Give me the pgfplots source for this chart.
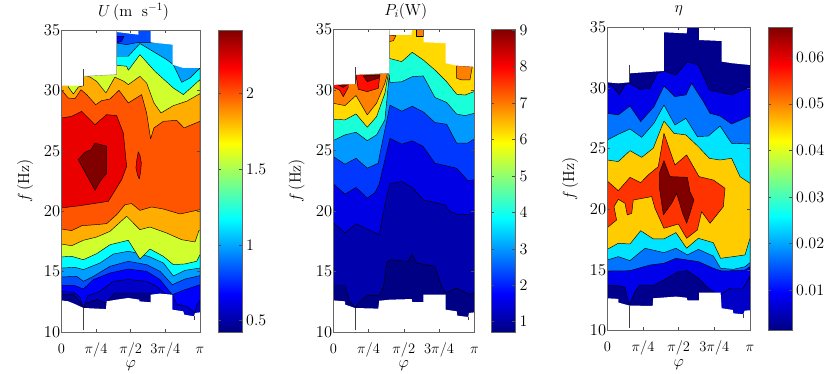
\RequirePackage{fix-cm}
\documentclass[border=0pt]{standalone}
\usepackage{pgfplots}
\pgfplotsset{compat=1.18}

% contour fill colours, picked per panel off the jet scale
\definecolor{ua}{rgb}{0,0,.55}\definecolor{ub}{rgb}{0,0,.78}\definecolor{uc}{rgb}{0,0,1}
\definecolor{ud}{rgb}{0,.3,1}\definecolor{ue}{rgb}{0,.62,1}\definecolor{uf}{rgb}{0,1,1}
\definecolor{ug}{rgb}{.82,1,.18}\definecolor{uh}{rgb}{1,.68,0}\definecolor{ui}{rgb}{1,.33,0}
\definecolor{uj}{rgb}{.92,0,0}\definecolor{uk}{rgb}{.5,0,0}
\definecolor{pa}{rgb}{0,0,.52}\definecolor{pb}{rgb}{0,0,.68}\definecolor{pc}{rgb}{0,0,.9}
\definecolor{pd}{rgb}{0,.22,1}\definecolor{pe}{rgb}{0,.6,1}\definecolor{pf}{rgb}{.1,1,.85}
\definecolor{pg}{rgb}{1,.85,0}\definecolor{ph}{rgb}{1,.5,0}\definecolor{pi}{rgb}{1,.05,0}
\definecolor{pj}{rgb}{.5,0,0}
\definecolor{ea}{rgb}{0,0,.55}\definecolor{eb}{rgb}{0,0,.92}\definecolor{ebb}{rgb}{0,0,.78}
\definecolor{ec}{rgb}{0,.45,1}\definecolor{ed}{rgb}{0,.9,1}\definecolor{ee}{rgb}{1,.8,0}
\definecolor{ef}{rgb}{1,.2,0}\definecolor{eg}{rgb}{.5,0,0}

\newcommand{\tickfont}{\fontsize{16}{17}\selectfont}
\pgfplotsset{
  panel/.style={
    scale only axis, axis on top,
    xmin=0, xmax=1, ymin=10, ymax=35,
    xtick={0,.25,.5,.75,1},
    xticklabels={$0$,$\pi/4$,$\pi/2$,$3\pi/4$,$\pi$},
    ytick={10,15,20,25,30,35},
    tick align=inside, major tick length=3pt,
    axis line style={black!60,line width=.5pt},
    every tick/.style={black!70,line width=.4pt},
    xticklabel style={font=\fontsize{14.5}{15}\selectfont,inner sep=0pt,text height=11pt,text depth=3pt},
    yticklabel style={font=\fontsize{16.5}{17}\selectfont,inner sep=0pt},
    xticklabel shift=10pt, yticklabel shift=1pt,
    xlabel={$\varphi$}, ylabel={$f\,(\mathrm{Hz})$},
    every axis x label/.style={at={(axis description cs:.5,-.112)},anchor=center,font=\tickfont,inner sep=0pt},
    every axis y label/.style={at={(axis description cs:-.26,.5)},anchor=center,rotate=90,font=\tickfont},
    every axis title/.style={at={(axis description cs:.5,1.06)},anchor=center,font=\tickfont,inner sep=0pt},
    colormap/jet, colorbar,
  },
  cbar/.style={
    colorbar/width=24pt,
    colorbar style={
      scale only axis,
      anchor=north west, at={(parent axis.north east)}, xshift=#1,
      tick align=inside, major tick length=3pt,
      axis line style={black!60,line width=.5pt},
      every tick/.style={black!70,line width=.4pt},
      yticklabel style={font=\tickfont,inner sep=0pt},
      yticklabel shift=4pt,
      scaled y ticks=false,
    }},
  lev/.style={draw=black,line width=.45pt,line join=round,sharp plot,no markers,fill=#1},
  mask/.style={draw=none,fill=white,sharp plot,no markers},
  spike/.style={draw=black!75,line width=.4pt,sharp plot,no markers},
}

\begin{document}
\begin{tikzpicture}
\useasboundingbox (0,0) rectangle (831pt,373pt);

% ---- U ----
\begin{axis}[panel, at={(61.3pt,41pt)}, anchor=south west, width=138.7pt, height=301.7pt,
  title={$U\,(\mathrm{m\ \ s^{-1}})$}, title style={xshift=3pt},
  point meta min=.425, point meta max=2.418, cbar=9.5pt,
  colorbar style={ytick={.5,1,1.5,2},yticklabels={$0.5$,$1$,$1.5$,$2$}}]
\addplot[lev=ua] coordinates {(0,10)(1,10)(1,35)(0,35)} --cycle;
\addplot[lev=ub] coordinates {(0,13.15)(.09,13.1)(.135,12.5)(.159,12)(.18,12.4)(.26,12.7)(.322,12.4)(.385,13.23)(.64,13.23)(.7,12.7)(.74,12)(.8,11)(1,11)(1,35)(0,35)} --cycle;
\addplot[lev=uc] coordinates {(0,13.35)(.09,13.3)(.135,12.9)(.159,12)(.19,13)(.279,13.37)(.375,14.2)(.483,14.35)(.615,14.2)(.6875,13.78)(.748,13.18)(.8,13.09)(.832,12.3)(.904,12.13)(.964,11.6)(.976,12.2)(1,12.62)(1,35)(0,35)} --cycle;
\addplot[lev=ud] coordinates {(0,13.84)(.099,13.84)(.159,13.56)(.231,14.34)(.351,14.89)(.483,15.22)(.615,15.03)(.712,14.34)(.8,13.09)(.892,13.51)(1,13.92)(1,35)(0,35)} --cycle;
\addplot[lev=ue] coordinates {(0,14.56)(.111,14.61)(.159,14.2)(.231,14.61)(.351,15.44)(.483,15.86)(.615,15.58)(.712,15.03)(.8,13.92)(.892,14.39)(1,14.67)(1,34)(.555,34)(.471,33.81)(.399,33.95)(.399,35)(0,35)} --cycle;
\addplot[lev=uc] coordinates {(.399,34.5)(.452,34.5)(.435,34.09)(.399,33.95)} --cycle;
\addplot[lev=uf] coordinates {(0,15.3)(.099,15.36)(.159,15.17)(.279,15.72)(.375,16.46)(.483,16.69)(.567,16.49)(.639,16.22)(.736,15.72)(.808,14.64)(.892,15.11)(1,15.3)(1,31.88)(.928,31.05)(.868,30.69)(.808,32.15)(.76,32.57)(.567,33.9)(.483,32.85)(.399,32.85)(.399,35)(0,35)} --cycle;
\addplot[lev=ug] coordinates {(0,16.22)(.075,16.27)(.159,15.99)(.255,16.49)(.351,17.23)(.483,17.6)(.567,16.05)(.639,16.88)(.736,16.27)(.808,15.58)(.892,15.64)(.976,15.86)(1,16.41)(1,30.91)(.88,29.67)(.808,30.22)(.675,31.6)(.567,32.98)(.483,31.69)(.471,32.02)(.399,32.1)(.399,35)(0,35)} --cycle;
\addplot[lev=uh] coordinates {(0,17.29)(.075,17.15)(.159,17.6)(.255,17.87)(.351,18.34)(.471,19.59)(.567,18.48)(.639,18.7)(.76,18.2)(.868,17.65)(.964,17.46)(.993,18.43)(1,18.43)(1,29.75)(.904,29.12)(.808,28.76)(.719,28.15)(.668,28.98)(.615,30.64)(.567,31.19)(.483,30.5)(.452,30.77)(.399,31.05)(.387,31.13)(.322,29.81)(.255,30.77)(.207,31.13)(.159,31.3)(.159,30.41)(.123,30.3)(.087,29.72)(.05,30.3)(.05,31)(0,31)} --cycle;
\addplot[lev=ui] coordinates {(0,18.54)(.075,18.4)(.147,18.81)(.255,18.9)(.327,18.98)(.399,19.72)(.459,20.55)(.507,20.64)(.567,20.08)(.651,20.36)(.736,20.19)(.856,19.78)(1,20.14)(1,27.46)(.885,26.91)(.832,27.54)(.736,27.46)(.668,26.91)(.644,26)(.615,28.15)(.579,29.67)(.483,28.98)(.416,30.03)(.351,29.31)(.291,29.17)(.248,28.84)(.183,29.67)(.142,30.08)(.099,29.34)(.05,29.39)(0,30.08)} --cycle;
\addplot[lev=uj] coordinates {(0,27.73)(.075,27.87)(.147,28.29)(.243,27.18)(.327,28.01)(.399,27.93)(.447,26.49)(.471,23.73)(.435,22.62)(.339,20.83)(.135,20.47)(0,20.28)} --cycle;
\addplot[lev=uj] coordinates {(.555,24.92)(.545,24.3)(.538,23.6)(.55,23)(.5625,22.68)(.572,23.3)(.577,24)(.568,24.6)} --cycle;
\addplot[lev=uk] coordinates {(.123,24.28)(.17,24.9)(.215,25.1)(.243,25.66)(.327,25.39)(.327,23.18)(.279,22.49)(.243,21.74)(.195,22.76)(.135,24)} --cycle;
\addplot[mask] coordinates {(0,35)(.399,35)(.399,31.33)(.159,31.19)(.159,30.41)(0,30.41)} --cycle;
\addplot[mask] coordinates {(.399,35)(.399,34.86)(.555,34.64)(.555,35)} --cycle;
\addplot[mask] coordinates {(.644,35)(.644,34)(.803,33.81)(.803,32.15)(.88,31.88)(1,31.88)(1,35)} --cycle;
\addplot[mask] coordinates {(0,10)(0,12.62)(.05,12.54)(.091,12.35)(.159,11.99)(.322,11.9)(.327,12.54)(.399,12.68)(.483,12.82)(.5625,12.68)(.5625,12.54)(.644,12.46)(.644,13.09)(.712,13.18)(.8,13.09)(.8,11.85)(.88,11.71)(.885,11.44)(.957,11.3)(.964,11.57)(1,11.63)(1,10)} --cycle;
\addplot[spike] coordinates {(.159,10.14)(.159,11.99)};
\addplot[spike] coordinates {(.159,30.41)(.159,31.82)};
\addplot[spike] coordinates {(.957,10.97)(.957,11.3)};
\addplot[spike,black!45] coordinates {(.159,31.19)(.399,31.33)(.399,35)};
\end{axis}

% ---- P_i ----
\begin{axis}[panel, at={(333.3pt,41pt)}, anchor=south west, width=141pt, height=302.7pt,
  title={$P_i(\mathrm{W})$}, title style={xshift=2pt},
  point meta min=.716, point meta max=9.03, cbar=8.5pt,
  colorbar style={ytick={1,...,9}}]
\addplot[lev=pa] coordinates {(0,10)(1,10)(1,35)(0,35)} --cycle;
\addplot[lev=pb] coordinates {(0,13.82)(.083,13.82)(.111,12.67)(.154,11.98)(.189,12.53)(.241,13)(.324,13)(.355,13.63)(.378,15.69)(.402,15.97)(.532,15.83)(.56,16.46)(.591,15.69)(.721,15.42)(.768,13.77)(.797,13.22)(.875,13.63)(.946,13.22)(.969,13.08)(1,13.27)(1,35)(0,35)} --cycle;
\addplot[lev=pc] coordinates {(0,19.05)(.083,18.17)(.161,18.94)(.241,18.5)(.324,18.03)(.378,21.19)(.402,22.24)(.485,22.43)(.56,21.94)(.638,20.92)(.792,20.5)(.827,19.96)(.887,19.68)(1,19.76)(1,35)(0,35)} --cycle;
\addplot[lev=pd] coordinates {(0,22.24)(.083,21.39)(.161,21.94)(.241,21.06)(.296,21.52)(.324,22.16)(.402,26)(.485,25.51)(.56,25.79)(.638,25.32)(.721,23.94)(.804,23.72)(.875,23.53)(.953,22.51)(1,22.57)(1,35)(0,35)} --cycle;
\addplot[lev=pe] coordinates {(0,24.49)(.083,23.86)(.161,24.35)(.241,23.53)(.319,23.94)(.331,24.74)(.402,28.74)(.485,28.24)(.56,28.65)(.638,28.18)(.721,27.3)(.804,27.16)(.875,25.6)(.953,25.6)(1,25.95)(1,35)(0,35)} --cycle;
\addplot[lev=pf] coordinates {(0,25.81)(.083,26.28)(.161,26.5)(.241,25.81)(.307,26.28)(.366,27.52)(.397,31.23)(.402,30.6)(.485,30.67)(.56,31.09)(.638,31.15)(.721,29.37)(.804,28.96)(.875,28)(.934,27.87)(1,28.06)(1,35)(0,35)} --cycle;
\addplot[lev=pg] coordinates {(0,27.57)(.083,27.52)(.161,28.01)(.241,26.91)(.307,27.79)(.366,29.72)(.39,31.31)(.39,35)(0,35)} --cycle;
\addplot[lev=pg] coordinates {(.397,32.6)(.485,32.33)(.56,33.1)(.638,32.47)(.721,31.64)(.804,30.67)(.875,29.64)(.934,29.57)(1,29.86)(1,35)(.397,35)} --cycle;
\addplot[lev=ph] coordinates {(0,28.89)(.083,28.7)(.161,29.53)(.241,27.93)(.307,28.9)(.366,30.54)(.383,31.3)(.383,35)(0,35)} --cycle;
\addplot[lev=ph] coordinates {(.875,32)(.875,30.96)(.91,30.82)(.969,30.82)(.986,31.92)} --cycle;
\addplot[lev=ph] coordinates {(.591,35)(.591,34.4)(.638,34.4)(.638,35)} --cycle;
\addplot[lev=ph] coordinates {(.397,34.53)(.397,33.98)(.426,34.06)(.444,34.48)} --cycle;
\addplot[lev=pi] coordinates {(0,30.2)(.043,30)(.071,29.44)(.106,30.2)(.106,30.54)(0,30.54)} --cycle;
\addplot[lev=pi] coordinates {(.161,31.23)(.177,30.05)(.241,29.85)(.319,30.13)(.331,31.23)} --cycle;
\addplot[lev=pj] coordinates {(.035,30.41)(.07,30.2)(.1,30.41)} --cycle;
\addplot[lev=pj] coordinates {(.213,31.15)(.241,30.68)(.319,30.96)(.331,31.23)} --cycle;
\addplot[mask] coordinates {(0,35)(.397,35)(.397,31.37)(.154,31.23)(.154,30.49)(0,30.41)} --cycle;
\addplot[mask] coordinates {(.397,35)(.397,34.53)(.553,34.53)(.56,35)} --cycle;
\addplot[mask] coordinates {(.641,35)(.641,33.93)(.797,33.85)(.797,32.2)(.875,32)(1,31.9)(1,35)} --cycle;
\addplot[mask] coordinates {(0,10)(0,12.61)(.083,12.53)(.083,12.26)(.154,11.98)(.319,11.93)(.326,12.58)(.402,12.67)(.556,12.72)(.56,12.47)(.638,12.47)(.638,13.08)(.797,13.08)(.797,11.84)(.875,11.71)(.879,11.35)(.957,11.24)(.962,11.57)(1,11.62)(1,10)} --cycle;
\addplot[spike] coordinates {(.154,10.14)(.154,11.98)};
\addplot[spike] coordinates {(.154,30.49)(.154,31.86)};
\addplot[spike] coordinates {(.957,10.96)(.957,11.24)};
\addplot[spike,black!45] coordinates {(.154,31.23)(.397,31.37)(.397,35)};
\end{axis}

% ---- eta ----
\begin{axis}[panel, at={(607.3pt,42.7pt)}, anchor=south west, width=142.7pt, height=303pt,
  title={$\eta$}, title style={yshift=-1.5pt},
  point meta min=.00143, point meta max=.0664, cbar=9.5pt,
  colorbar style={ytick={.01,.02,.03,.04,.05,.06},yticklabels={$0.01$,$0.02$,$0.03$,$0.04$,$0.05$,$0.06$}}]
\addplot[lev=ea] coordinates {(0,10)(1,10)(1,35)(0,35)} --cycle;
\addplot[lev=eb] coordinates {(0,13.69)(.077,13.69)(.124,13.55)(.154,12.09)(.194,13.19)(.229,13.74)(.322,13.69)(.397,14.15)(.498,14.84)(.561,14.92)(.638,14.29)(.696,13.6)(.743,13.19)(.794,12.92)(.86,13.47)(.953,13.47)(1,14.43)(1,30.1)(.871,29.42)(.715,29.83)(.638,31.89)(.561,32.17)(.481,31.07)(.397,31.4)(.35,31.2)(.299,29.97)(.229,29.88)(.154,30.38)(.124,30.24)(.084,29.42)(.042,30.05)(0,30.38)} --cycle;
\addplot[lev=ebb] coordinates {(.794,12.92)(.86,13.47)(.953,13.47)(1,14.43)(1,10)(.794,10)} --cycle;
\addplot[lev=ec] coordinates {(0,14.9)(.077,14.9)(.159,14.92)(.299,15.39)(.397,15.53)(.481,15.94)(.638,15.67)(.743,15.12)(.801,14.9)(.883,14.92)(.965,14.98)(1,15.25)(1,27.68)(.871,27.02)(.79,27.68)(.72,27.9)(.673,28.87)(.591,30.38)(.551,29.42)(.474,29.28)(.397,30.16)(.327,28.45)(.234,27.22)(.159,28.51)(.077,27.77)(0,27.9)} --cycle;
\addplot[lev=ed] coordinates {(0,15.8)(.077,16.08)(.159,15.75)(.264,16.77)(.397,16.41)(.481,16.77)(.561,16.22)(.638,16.68)(.743,16.13)(.794,15.12)(.883,15.03)(.965,15.25)(1,15.58)(1,25.37)(.871,25.43)(.79,26.86)(.708,26.03)(.631,25.98)(.551,27.49)(.474,26.94)(.397,28.59)(.327,27.08)(.241,25.92)(.159,26.61)(.077,26.17)(0,25.7)} --cycle;
\addplot[lev=ee] coordinates {(0,16.68)(.077,17.18)(.159,17.12)(.234,18.22)(.322,17.54)(.397,17.54)(.481,18.06)(.556,16.77)(.638,17.59)(.743,17.23)(.794,15.94)(.883,16.08)(.965,16.22)(1,17.59)(1,22.13)(.93,22.68)(.871,24.19)(.79,24.05)(.715,24.19)(.638,25.15)(.551,26.12)(.467,26.25)(.397,27.27)(.322,25.02)(.241,24.27)(.159,24.82)(.077,23.92)(0,24.05)} --cycle;
\addplot[lev=ef] coordinates {(0,22.32)(.077,21.52)(.159,22.62)(.234,22.18)(.287,22.82)(.357,23.5)(.397,26.25)(.474,23.64)(.556,24.47)(.643,22.68)(.743,22.4)(.825,21.72)(.813,20.2)(.72,18.83)(.661,19.79)(.631,18.28)(.556,17.59)(.498,18.77)(.397,18.42)(.334,20.07)(.311,21.03)(.182,20.75)(.171,19.65)(.14,19.52)(.124,20.48)(.077,20.81)(.047,20.2)(.065,19.1)(0,18.47)} --cycle;
\addplot[lev=eg] coordinates {(.397,24)(.439,22.68)(.561,22.62)(.579,21.44)(.607,20.75)(.579,19.65)(.556,18.83)(.528,19.65)(.486,21.3)(.451,20.48)(.393,19.52)(.364,21.85)(.364,22.95)} --cycle;
\addplot[mask] coordinates {(0,35)(.397,35)(.397,31.4)(.154,31.2)(.154,30.46)(.077,30.38)(0,30.46)} --cycle;
\addplot[mask] coordinates {(.397,35)(.397,34.59)(.556,34.5)(.561,35)} --cycle;
\addplot[mask] coordinates {(.643,35)(.643,33.95)(.801,33.87)(.801,32.17)(.879,32.03)(1,31.89)(1,35)} --cycle;
\addplot[mask] coordinates {(0,10)(0,12.64)(.077,12.59)(.077,12.29)(.154,12.04)(.318,12.01)(.322,12.64)(.481,12.78)(.556,12.69)(.561,12.47)(.643,12.47)(.643,13.1)(.794,13.1)(.801,11.82)(.879,11.68)(.883,11.4)(.953,11.32)(.963,11.62)(1,11.65)(1,10)} --cycle;
\addplot[spike] coordinates {(.154,10.22)(.154,12.04)};
\addplot[spike] coordinates {(.154,30.46)(.154,31.85)};
\addplot[spike] coordinates {(.953,10.99)(.953,11.32)};
\end{axis}
\end{tikzpicture}
\end{document}
